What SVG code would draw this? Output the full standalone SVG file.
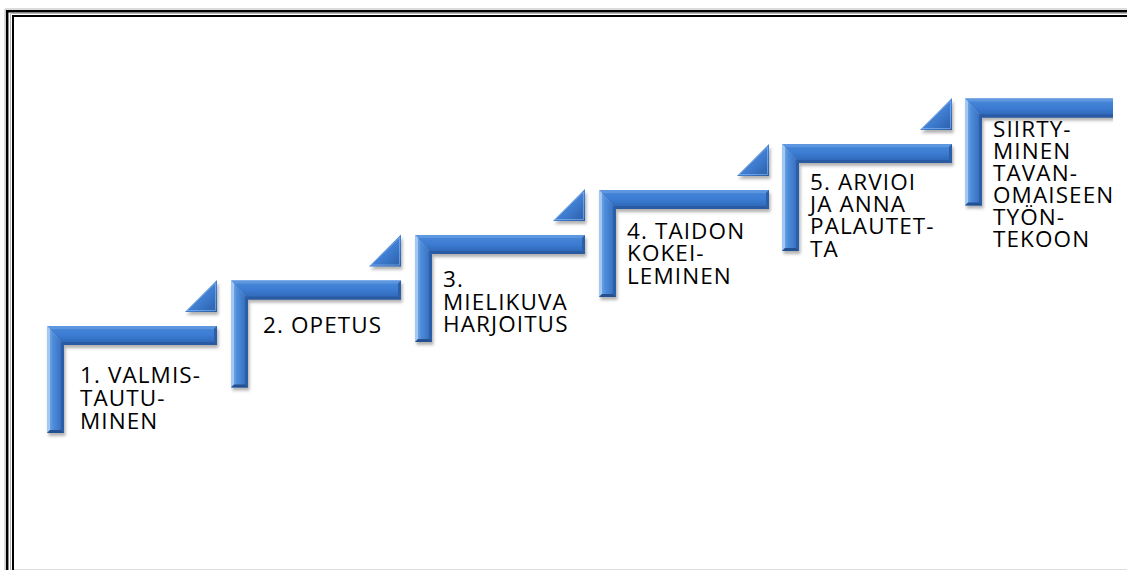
<svg xmlns="http://www.w3.org/2000/svg" xmlns:xlink="http://www.w3.org/1999/xlink" width="1127" height="570" viewBox="0 0 1127 570">
<style>
.lbl{font-family:"Open Sans","Liberation Sans",sans-serif;font-size:22.5px;fill:#000;letter-spacing:1.1px}
.frameO{fill:none;stroke:#000;stroke-width:2.5}
.frameI{fill:none;stroke:#000;stroke-width:2}
.frameG{fill:none;stroke:#b8b8b8;stroke-width:1}
</style>
<defs>
<linearGradient id="gH" x1="0" y1="0" x2="0" y2="1">
<stop offset="0" stop-color="#4a8ad9"/>
<stop offset="0.5" stop-color="#3b7bd2"/>
<stop offset="1" stop-color="#2c62b0"/>
</linearGradient>
<linearGradient id="gV" x1="0" y1="0" x2="1" y2="0">
<stop offset="0" stop-color="#86b6ee"/>
<stop offset="0.35" stop-color="#4f8ddb"/>
<stop offset="1" stop-color="#2f67b6"/>
</linearGradient>
<linearGradient id="gT" x1="0" y1="0" x2="1" y2="1">
<stop offset="0" stop-color="#6aa2e6"/>
<stop offset="0.6" stop-color="#3d7bcf"/>
<stop offset="1" stop-color="#2a5ea8"/>
</linearGradient>
<filter id="sh" x="-10%" y="-20%" width="130%" height="150%">
<feDropShadow dx="1.5" dy="3" stdDeviation="1.5" flood-color="#555" flood-opacity="0.45"/>
</filter>
<clipPath id="clip"><rect x="0" y="0" width="1113" height="570"/></clipPath>
<g id="stair">
<g filter="url(#sh)">
<polygon points="0,0 170,0 170,19 17,19" fill="url(#gH)"/>
<polygon points="0,0 17,19 17,107 0,107" fill="url(#gV)"/>
</g>
<polygon points="0,0 170,0 167,3 3,3" fill="#5d97df"/>
<polygon points="167,3 170,0 170,19 167,16" fill="#2b5fa8"/>
<polygon points="17,19 170,19 167,16 14,16" fill="#2a5aa2"/>
<polygon points="0,0 3,3 3,104 0,107" fill="#a3c9f3"/>
<polygon points="14,16 17,19 17,107 14,104" fill="#2a5ea9"/>
<polygon points="3,104 14,104 17,107 0,107" fill="#25508f"/>
</g>
<g id="tri">
<polygon points="138,-14 170,-14 170,-46" fill="url(#gT)" filter="url(#sh)"/>
<polygon points="140,-15.5 168.5,-15.5 168.5,-43" fill="none" stroke="#8fbdf0" stroke-width="1" opacity="0.6"/>
</g>
</defs>
<rect x="0" y="0" width="1127" height="570" fill="#fff"/>
<g id="frame">
<path class="frameG" d="M5,570 V9 H1127"/>
<path class="frameO" d="M7.2,570 V11.2 H1127"/>
<path class="frameG" d="M10.5,570 V13.5 H1127"/>
<path class="frameI" d="M13,570 V16 H1127"/>
<line x1="14" y1="569.5" x2="1127" y2="569.5" stroke="#dcdcdc" stroke-width="1"/>
</g>
<g clip-path="url(#clip)">
<g id="step1">
<use xlink:href="#stair" x="47" y="326"/>
<use xlink:href="#tri" x="47" y="326"/>
<text class="lbl" x="80" y="383">1. VALMIS-</text>
<text class="lbl" x="80" y="406">TAUTU-</text>
<text class="lbl" x="80" y="429">MINEN</text>
</g>
<g id="step2">
<use xlink:href="#stair" x="231" y="280.5"/>
<use xlink:href="#tri" x="231" y="280.5"/>
<text class="lbl" x="263" y="333">2. OPETUS</text>
</g>
<g id="step3">
<use xlink:href="#stair" x="415" y="235"/>
<use xlink:href="#tri" x="415" y="235"/>
<text class="lbl" x="443" y="287">3.</text>
<text class="lbl" x="443" y="309.5">MIELIKUVA</text>
<text class="lbl" x="443" y="332">HARJOITUS</text>
</g>
<g id="step4">
<use xlink:href="#stair" x="599" y="190"/>
<use xlink:href="#tri" x="599" y="190"/>
<text class="lbl" x="627" y="238.5">4. TAIDON</text>
<text class="lbl" x="627" y="261">KOKEI-</text>
<text class="lbl" x="627" y="283.5">LEMINEN</text>
</g>
<g id="step5">
<use xlink:href="#stair" x="782" y="144"/>
<use xlink:href="#tri" x="782" y="144"/>
<text class="lbl" x="810" y="189.5">5. ARVIOI</text>
<text class="lbl" x="810" y="212">JA ANNA</text>
<text class="lbl" x="810" y="234">PALAUTET-</text>
<text class="lbl" x="810" y="256.5">TA</text>
</g>
<g id="step6">
<use xlink:href="#stair" x="965" y="98.5"/>
<text class="lbl" x="993" y="137">SIIRTY-</text>
<text class="lbl" x="993" y="159">MINEN</text>
<text class="lbl" x="993" y="181">TAVAN-</text>
<text class="lbl" x="993" y="203">OMAISEEN</text>
<text class="lbl" x="993" y="225">TYÖN-</text>
<text class="lbl" x="993" y="247">TEKOON</text>
</g>
</g>
<g id="connectors"/>
</svg>
